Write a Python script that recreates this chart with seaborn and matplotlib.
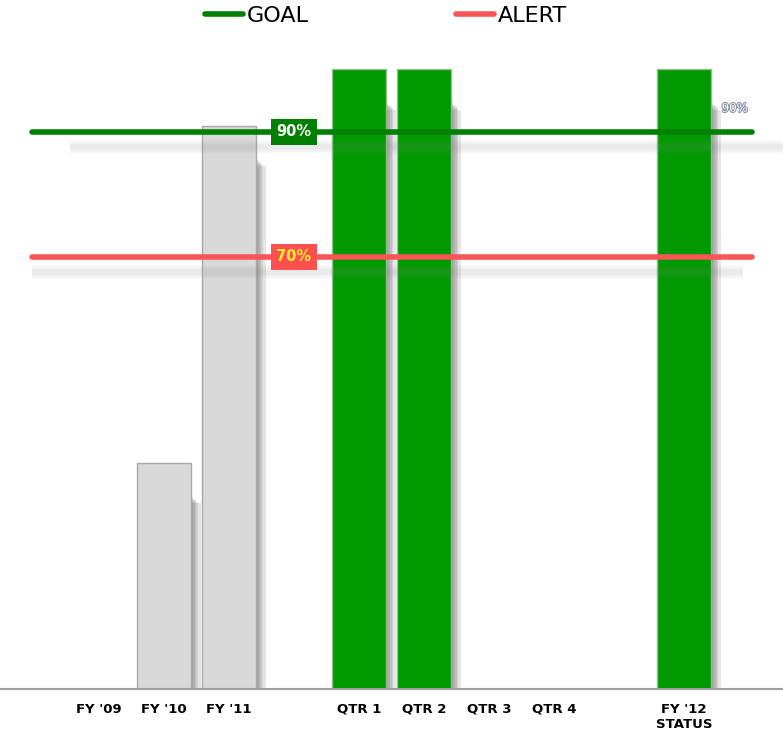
import numpy as np
import pandas as pd
import matplotlib
matplotlib.use("Agg")
import matplotlib.pyplot as plt
import matplotlib.patheffects as pe
import seaborn as sns

# ========== Data ==========
categories = ["FY '09", "FY '10", "FY '11", "QTR 1", "QTR 2", "QTR 3", "QTR 4", "FY '12\nSTATUS"]
values = [0, 37, 91, 100, 100, 0, 0, 100]
kinds = ["history", "history", "history", "current", "current", "current", "current", "status"]
goal = 90
alert = 70
line_labels = ["GOAL", "ALERT"]
goal_text = "90%"
alert_text = "70%"

palette = {"history": "#d9d9d9", "current": "#009900", "status": "#009900"}
edges = {"history": "#a9a9a9", "current": "#8cc08c", "status": "#8cc08c"}

# slot positions, one empty slot between groups
pos = []
x = 0
for i, k in enumerate(kinds):
    if i > 0 and k != kinds[i - 1]:
        x += 1
    pos.append(x)
    x += 1

df = pd.DataFrame({"pos": pos, "value": values, "kind": kinds})

sns.set_style("white")
plt.rcParams["font.family"] = ["DejaVu Sans"]
plt.rcParams["text.color"] = "black"

fig = plt.figure(figsize=(7.83, 7.33), dpi=100)
ax = fig.add_axes([0, 44 / 733, 1, (689 - 40) / 733])

W = 0.82
sns.barplot(data=df, x="pos", y="value", hue="kind", palette=palette,
            native_scale=True, width=W, dodge=False, legend=False, ax=ax,
            saturation=1, linewidth=1, zorder=2)
for patch, k in zip(ax.patches, kinds):
    patch.set_edgecolor(edges[k])

# soft drop shadows to the right of each bar
for p, v in zip(pos, values):
    if v <= 0:
        continue
    for j, d in enumerate([0.03, 0.06, 0.09, 0.12, 0.155]):
        ax.bar(p - W / 2, v - 5.4 - 0.25 * j, width=W + d, align="edge",
               color="#5a5a5a", alpha=0.15, lw=0, zorder=1)

# reference lines
x_lo, x_hi = -1.03, 10.05
for lw, a in [(10, 0.05), (7, 0.06), (4, 0.07)]:
    ax.plot([-0.45, 10.6], [goal - 2.4] * 2, color="#8a8a8a", lw=lw, alpha=a,
            solid_capstyle="butt", zorder=3)
    ax.plot([x_lo, 9.9], [alert - 2.4] * 2, color="#8a8a8a", lw=lw, alpha=a,
            solid_capstyle="butt", zorder=3)
goal_line, = ax.plot([x_lo, x_hi], [goal, goal], color="#007f00", lw=4,
                     solid_capstyle="round", zorder=4)
alert_line, = ax.plot([x_lo, x_hi], [alert, alert], color="#f85656", lw=4,
                      solid_capstyle="round", zorder=4)

mid = (pos[2] + pos[3]) / 2
ax.text(mid, goal, goal_text, color="white", fontsize=10.5, fontweight="bold",
        ha="center", va="center", zorder=6,
        bbox=dict(boxstyle="square,pad=0.35", fc="#007f00", ec="none"))
ax.text(mid, alert, alert_text, color="#fff030", fontsize=10.5, fontweight="bold",
        ha="center", va="center", zorder=6,
        bbox=dict(boxstyle="square,pad=0.35", fc="#ff5050", ec="none"))
ax.text(9.78, 93.8, goal_text, color="white", fontsize=8.5, family="DejaVu Serif",
        ha="center", va="center", zorder=6,
        path_effects=[pe.withStroke(linewidth=1.5, foreground="#8a96a6")])

ax.set_xlim(-1.523, 10.523)
ax.set_ylim(0.88, 104.72)
ax.set_xticks(pos)
ax.set_xticklabels(categories, fontweight="bold", fontsize=9.5, color="black",
                   multialignment="center")
ax.tick_params(axis="x", length=0, pad=10)
ax.set_yticks([])
ax.set_xlabel("")
ax.set_ylabel("")
for side in ["left", "right", "top"]:
    ax.spines[side].set_visible(False)
ax.spines["bottom"].set_color("#a0a0a0")
ax.spines["bottom"].set_linewidth(1.5)

leg = fig.legend([goal_line, alert_line], line_labels, loc="upper left",
                 bbox_to_anchor=(185 / 783, 1.019), ncol=2, frameon=False,
                 prop={"size": 16}, labelcolor="black",
                 handlelength=1.7, handletextpad=0.2, columnspacing=6.6)

fig.savefig("out.png", dpi=100)
